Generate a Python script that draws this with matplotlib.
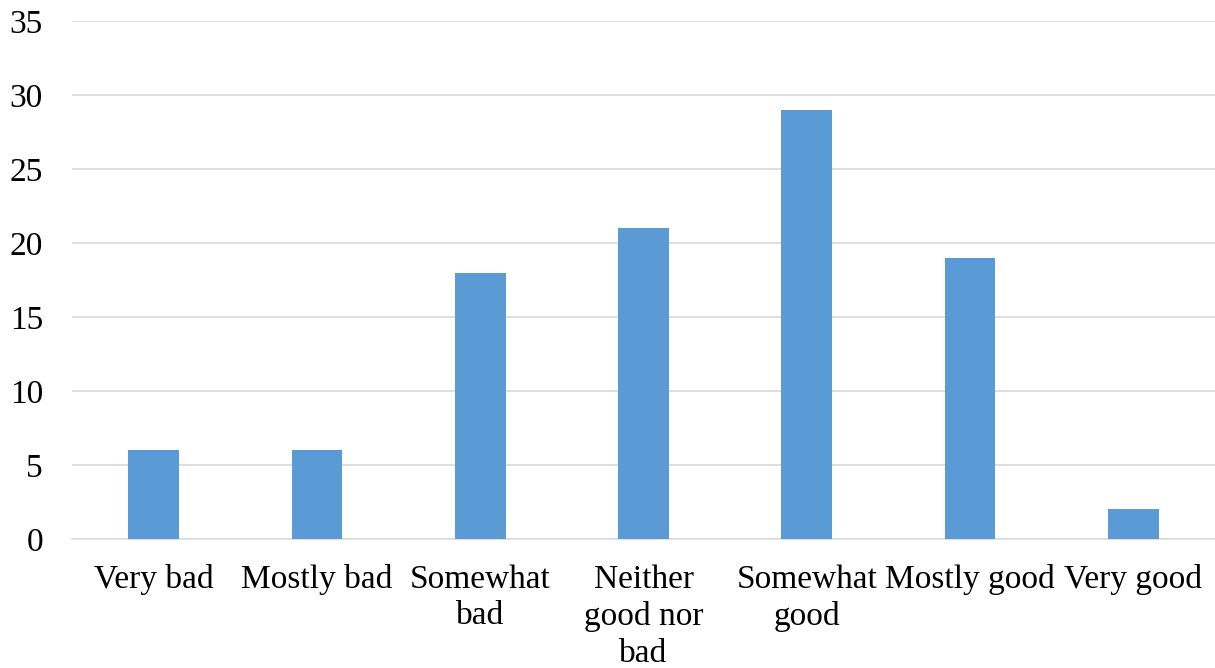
import matplotlib.pyplot as plt
import numpy as np

# categories and counts
labels = ['Very bad', 'Mostly bad', 'Somewhat\nbad', 'Neither\ngood nor\nbad',
          'Somewhat\ngood', 'Mostly good', 'Very good']
counts = [6, 6, 18, 21, 29, 19, 2]

plt.rcParams['font.family'] = ['Liberation Serif', 'DejaVu Serif']

fig = plt.figure(figsize=(12.15, 6.68), dpi=100)
ax = fig.add_axes([0.0593, 0.193, 0.9407, 0.7755])

x = np.arange(len(labels))
ax.bar(x, counts, width=0.31, color='#5B9BD5', zorder=3)

ax.set_xlim(-0.5, len(labels) - 0.5)
ax.set_ylim(0, 35)
ax.set_yticks(range(0, 36, 5))
ax.set_xticks(x)
ax.set_xticklabels(labels, fontsize=24, linespacing=1.27)
ax.tick_params(axis='y', labelsize=24, length=0, pad=21)
ax.tick_params(axis='x', length=0, pad=18)

ax.grid(axis='y', color='#D9D9D9', linewidth=1.2, zorder=0)
for s in ['top', 'right', 'left']:
    ax.spines[s].set_visible(False)
ax.spines['bottom'].set_color('#D9D9D9')
ax.spines['bottom'].set_linewidth(1.2)

fig.savefig('out.png', dpi=100)
